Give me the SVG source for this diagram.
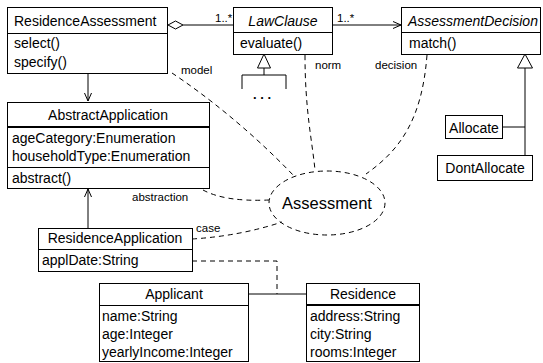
<svg xmlns="http://www.w3.org/2000/svg" width="543" height="363" viewBox="0 0 543 363">
<defs>
<marker id="open" markerWidth="10" markerHeight="10" refX="9" refY="5" orient="auto" markerUnits="userSpaceOnUse">
<path d="M1,1.5 L9,5 L1,8.5" fill="none" stroke="#000" stroke-width="1"/>
</marker>
<style>
.box{fill:#fff;stroke:#000;stroke-width:1}
.ln{stroke:#000;stroke-width:1;fill:none}
.thick{stroke:#000;stroke-width:2;fill:none}
.dash{stroke:#000;stroke-width:1;fill:none;stroke-dasharray:5,4}
text{font-family:"Liberation Sans",Arial,sans-serif;fill:#000}
.t{font-size:14px}
.c{text-anchor:middle}
.i{font-style:italic}
.lbl{font-size:11.5px}
</style>
</defs>
<rect width="543" height="363" fill="#fff"/>
<g id="connectors">
<path class="ln" d="M183,25 L233,25"/>
<path d="M168,25 L175.5,21 L183,25 L175.5,29 Z" fill="#fff" stroke="#000"/>
<path class="ln" d="M332,25 L401,25" marker-end="url(#open)"/>
<path class="ln" d="M88,74 L88,101" marker-end="url(#open)"/>
<path class="ln" d="M88,228 L88,189" marker-end="url(#open)"/>
<path d="M264,54 L257.5,68 L270.5,68 Z" fill="#fff" stroke="#000"/>
<path class="ln" d="M264,68 L264,75 M242,89 L242,75 L286,75 L286,89"/>
<path d="M525,54 L517.5,68 L532.5,68 Z" fill="#fff" stroke="#000"/>
<path class="ln" d="M525,68 L525,155 M502,127 L525,127"/>
<path class="ln" d="M248,294 L306,294"/>
<path class="dash" d="M192,261 L277,261 L277,294"/>
<path class="dash" d="M172,73 C205,95 250,130 294,176"/>
<path class="dash" d="M305,55 C305,110 312,140 315,170"/>
<path class="dash" d="M427,55 C422,120 400,150 366,174"/>
<path class="dash" d="M203,190 Q225,202 269,200"/>
<path class="dash" d="M192,239 Q240,236 282,222"/>
<text class="lbl" x="215" y="22">1..*</text>
<text class="lbl" x="337" y="22">1..*</text>
<text class="lbl" x="181" y="74">model</text>
<text class="lbl" x="315" y="69">norm</text>
<text class="lbl" x="375" y="69">decision</text>
<text class="lbl" x="132" y="201">abstraction</text>
<text class="lbl" x="196" y="232">case</text>
<text x="253" y="99" font-size="13" font-weight="bold">. . .</text>
</g>
<g id="ResidenceAssessment">
<rect class="box" x="7.5" y="7.5" width="160" height="66"/>
<path class="ln" d="M7.5,33.5 H167.5"/>
<text class="t" x="14" y="26">ResidenceAssessment</text>
<text class="t" x="14" y="48">select()</text>
<text class="t" x="14" y="67">specify()</text>
</g>
<g id="LawClause">
<rect class="box" x="233.5" y="7.5" width="99" height="47"/>
<path class="ln" d="M233.5,32.5 H332.5"/>
<text class="t c i" x="283" y="26">LawClause</text>
<text class="t" x="240" y="48">evaluate()</text>
</g>
<g id="AssessmentDecision">
<rect class="box" x="401.5" y="7.5" width="139" height="47"/>
<path class="ln" d="M401.5,32.5 H540.5"/>
<text class="t i" x="408" y="26">AssessmentDecision</text>
<text class="t" x="409" y="48">match()</text>
</g>
<g id="Allocate">
<rect class="box" x="445.5" y="115.5" width="57" height="23"/>
<text class="t c" x="474" y="133">Allocate</text>
</g>
<g id="DontAllocate">
<rect class="box" x="437.5" y="155.5" width="95" height="25"/>
<text class="t c" x="485" y="173">DontAllocate</text>
</g>
<g id="AbstractApplication">
<rect class="box" x="7.5" y="102.5" width="202" height="86"/>
<path class="thick" d="M7.5,127 H209.5"/>
<path class="ln" d="M7.5,167.5 H209.5" stroke="#555" stroke-width="1.5"/>
<text class="t c" x="108" y="120">AbstractApplication</text>
<text class="t" x="12" y="143">ageCategory:Enumeration</text>
<text class="t" x="12" y="161">householdType:Enumeration</text>
<text class="t" x="12" y="183">abstract()</text>
</g>
<g id="Assessment">
<ellipse cx="327" cy="203" rx="58" ry="32" class="dash"/>
<text class="c" x="327" y="209" font-size="16.5">Assessment</text>
</g>
<g id="ResidenceApplication">
<rect class="box" x="38.5" y="228.5" width="154" height="43"/>
<path class="ln" d="M38.5,249.5 H192.5"/>
<text class="t c" x="115" y="243">ResidenceApplication</text>
<text class="t" x="42" y="265">applDate:String</text>
</g>
<g id="Applicant">
<rect class="box" x="99.5" y="283.5" width="149" height="78"/>
<path class="ln" d="M99.5,305.5 H248.5"/>
<text class="t c" x="174" y="299">Applicant</text>
<text class="t" x="102" y="321">name:String</text>
<text class="t" x="102" y="339">age:Integer</text>
<text class="t" x="102" y="357">yearlyIncome:Integer</text>
</g>
<g id="Residence">
<rect class="box" x="306.5" y="283.5" width="113" height="78"/>
<path class="thick" d="M306.5,305 H419.5"/>
<text class="t c" x="363" y="299">Residence</text>
<text class="t" x="310" y="321">address:String</text>
<text class="t" x="310" y="339">city:String</text>
<text class="t" x="310" y="357">rooms:Integer</text>
</g>
</svg>
